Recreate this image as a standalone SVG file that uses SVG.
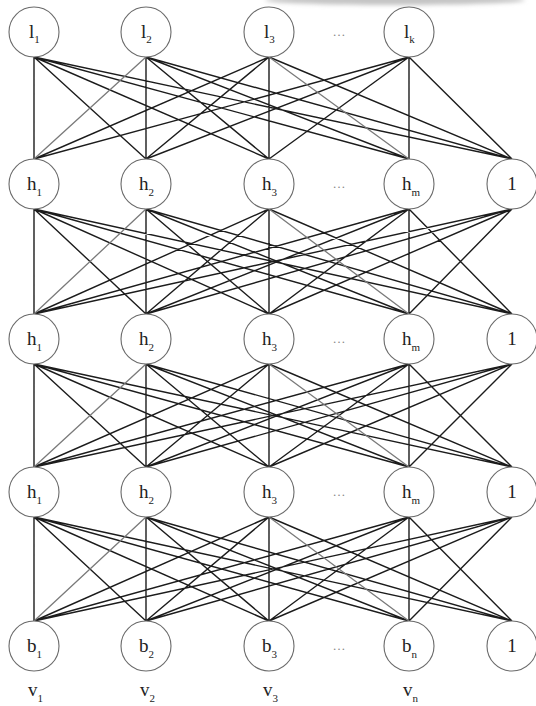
<svg xmlns="http://www.w3.org/2000/svg" width="536" height="706" viewBox="0 0 536 706">
<style>
.e{fill:none;stroke:#1c1c1c;stroke-width:1.4}
.g{fill:none;stroke:#7a7a7a;stroke-width:1.3}
.n{fill:#fff;stroke:#6a6a6a;stroke-width:1.1}
.t{font-family:"Liberation Serif","Times New Roman",serif;font-size:19px;fill:#222}
.s{font-size:11px}
.d{font-family:"Liberation Serif",serif;font-size:13px;fill:#888}
</style>
<defs>
<filter id="bl" x="-20%" y="-100%" width="140%" height="300%"><feGaussianBlur stdDeviation="2"/></filter>
</defs>
<rect width="536" height="706" fill="#fff"/>
<ellipse cx="395" cy="0" rx="130" ry="5" fill="#c4c4c4" filter="url(#bl)"/>
<g id="connectors">
<path class="e" d="M34 57L34 159M34 57L146 159M34 57L269 159M34 57L409 159M34 57L512 159M146 57L146 159M146 57L269 159M146 57L409 159M146 57L512 159M269 57L34 159M269 57L146 159M269 57L269 159M269 57L512 159M409 57L34 159M409 57L146 159M409 57L269 159M409 57L409 159M409 57L512 159"/>
<path class="g" d="M146 57L34 159M269 57L409 159"/>
<path class="e" d="M34 209L34 314M34 209L146 314M34 209L269 314M34 209L409 314M34 209L512 314M146 209L146 314M146 209L269 314M146 209L409 314M146 209L512 314M269 209L34 314M269 209L146 314M269 209L269 314M269 209L512 314M409 209L34 314M409 209L146 314M409 209L269 314M409 209L409 314M409 209L512 314M512 209L34 314M512 209L146 314M512 209L269 314M512 209L409 314"/>
<path class="g" d="M146 209L34 314M269 209L409 314"/>
<path class="e" d="M34 364L34 467M34 364L146 467M34 364L269 467M34 364L409 467M34 364L512 467M146 364L146 467M146 364L269 467M146 364L409 467M146 364L512 467M269 364L34 467M269 364L146 467M269 364L269 467M269 364L512 467M409 364L34 467M409 364L146 467M409 364L269 467M409 364L409 467M409 364L512 467M512 364L34 467M512 364L146 467M512 364L269 467M512 364L409 467"/>
<path class="g" d="M146 364L34 467M269 364L409 467"/>
<path class="e" d="M34 517L34 621M34 517L146 621M34 517L269 621M34 517L409 621M34 517L512 621M146 517L146 621M146 517L269 621M146 517L409 621M146 517L512 621M269 517L34 621M269 517L146 621M269 517L269 621M269 517L512 621M409 517L34 621M409 517L146 621M409 517L269 621M409 517L409 621M409 517L512 621M512 517L34 621M512 517L146 621M512 517L269 621M512 517L409 621"/>
<path class="g" d="M146 517L34 621M269 517L409 621"/>
</g>
<g id="l1"><circle class="n" cx="34" cy="32" r="25"/><text class="t" x="29" y="38">l<tspan class="s" dy="5">1</tspan></text></g>
<g id="l2"><circle class="n" cx="146" cy="32" r="25"/><text class="t" x="141" y="38">l<tspan class="s" dy="5">2</tspan></text></g>
<g id="l3"><circle class="n" cx="269" cy="32" r="25"/><text class="t" x="264" y="38">l<tspan class="s" dy="5">3</tspan></text></g>
<text class="d" x="339" y="36" text-anchor="middle">…</text>
<g id="lk"><circle class="n" cx="409" cy="32" r="25"/><text class="t" x="404" y="38">l<tspan class="s" dy="5">k</tspan></text></g>

<g id="h1a"><circle class="n" cx="34" cy="184" r="25"/><text class="t" x="27" y="190">h<tspan class="s" dy="6">1</tspan></text></g>
<g id="h2a"><circle class="n" cx="146" cy="184" r="25"/><text class="t" x="139" y="190">h<tspan class="s" dy="6">2</tspan></text></g>
<g id="h3a"><circle class="n" cx="269" cy="184" r="25"/><text class="t" x="262" y="190">h<tspan class="s" dy="6">3</tspan></text></g>
<text class="d" x="339" y="188" text-anchor="middle">…</text>
<g id="hma"><circle class="n" cx="409" cy="184" r="25"/><text class="t" x="402" y="190">h<tspan class="s" dy="6">m</tspan></text></g>
<g id="bias1"><circle class="n" cx="512" cy="184" r="25"/><text class="t" x="512" y="190" text-anchor="middle">1</text></g>

<g id="h1b"><circle class="n" cx="34" cy="339" r="25"/><text class="t" x="27" y="345">h<tspan class="s" dy="6">1</tspan></text></g>
<g id="h2b"><circle class="n" cx="146" cy="339" r="25"/><text class="t" x="139" y="345">h<tspan class="s" dy="6">2</tspan></text></g>
<g id="h3b"><circle class="n" cx="269" cy="339" r="25"/><text class="t" x="262" y="345">h<tspan class="s" dy="6">3</tspan></text></g>
<text class="d" x="339" y="343" text-anchor="middle">…</text>
<g id="hmb"><circle class="n" cx="409" cy="339" r="25"/><text class="t" x="402" y="345">h<tspan class="s" dy="6">m</tspan></text></g>
<g id="bias2"><circle class="n" cx="512" cy="339" r="25"/><text class="t" x="512" y="345" text-anchor="middle">1</text></g>

<g id="h1c"><circle class="n" cx="34" cy="492" r="25"/><text class="t" x="27" y="498">h<tspan class="s" dy="6">1</tspan></text></g>
<g id="h2c"><circle class="n" cx="146" cy="492" r="25"/><text class="t" x="139" y="498">h<tspan class="s" dy="6">2</tspan></text></g>
<g id="h3c"><circle class="n" cx="269" cy="492" r="25"/><text class="t" x="262" y="498">h<tspan class="s" dy="6">3</tspan></text></g>
<text class="d" x="339" y="496" text-anchor="middle">…</text>
<g id="hmc"><circle class="n" cx="409" cy="492" r="25"/><text class="t" x="402" y="498">h<tspan class="s" dy="6">m</tspan></text></g>
<g id="bias3"><circle class="n" cx="512" cy="492" r="25"/><text class="t" x="512" y="498" text-anchor="middle">1</text></g>

<g id="b1"><circle class="n" cx="34" cy="646" r="25"/><text class="t" x="27" y="652">b<tspan class="s" dy="6">1</tspan></text></g>
<g id="b2"><circle class="n" cx="146" cy="646" r="25"/><text class="t" x="139" y="652">b<tspan class="s" dy="6">2</tspan></text></g>
<g id="b3"><circle class="n" cx="269" cy="646" r="25"/><text class="t" x="262" y="652">b<tspan class="s" dy="6">3</tspan></text></g>
<text class="d" x="339" y="650" text-anchor="middle">…</text>
<g id="bn"><circle class="n" cx="409" cy="646" r="25"/><text class="t" x="402" y="652">b<tspan class="s" dy="6">n</tspan></text></g>
<g id="bias4"><circle class="n" cx="512" cy="646" r="25"/><text class="t" x="512" y="652" text-anchor="middle">1</text></g>

<g id="vlabels">
<text class="t" x="28" y="696">v<tspan class="s" dy="6">1</tspan></text>
<text class="t" x="140" y="696">v<tspan class="s" dy="6">2</tspan></text>
<text class="t" x="263" y="696">v<tspan class="s" dy="6">3</tspan></text>
<text class="t" x="403" y="696">v<tspan class="s" dy="6">n</tspan></text>
</g>
</svg>
